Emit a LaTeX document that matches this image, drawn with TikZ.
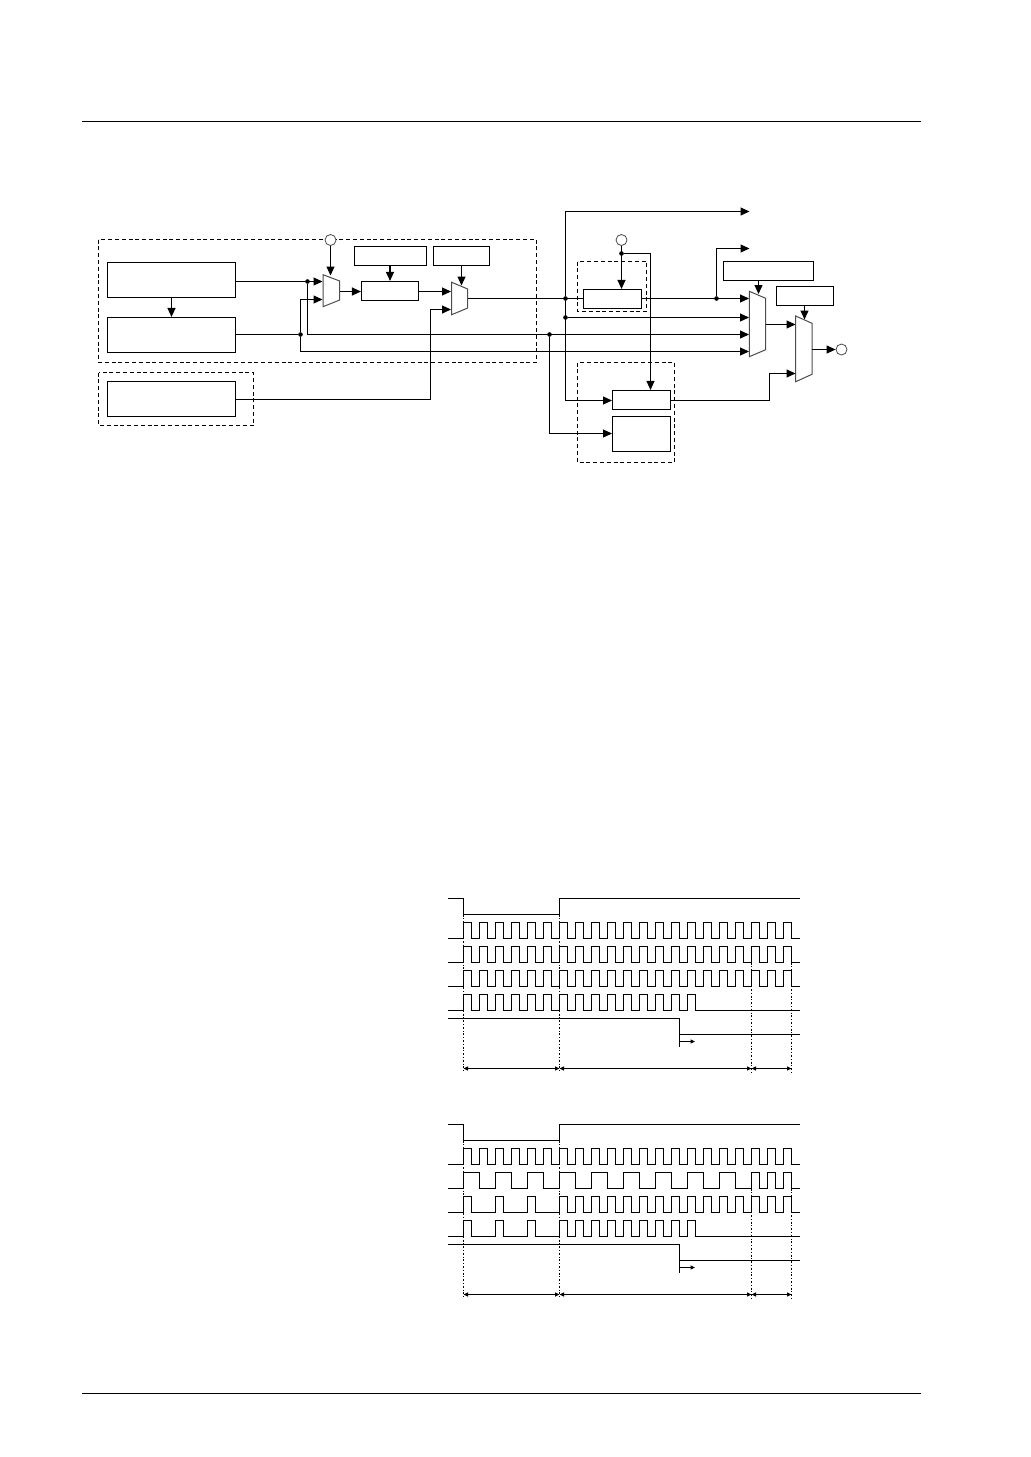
\documentclass[tikz,border=0pt]{standalone}
\usetikzlibrary{arrows.meta}
\tikzset{
  wire/.style={line width=1.1pt},
  blockbox/.style={draw,line width=1.1pt,inner sep=0pt,minimum height=19pt},
  widebox/.style={blockbox,minimum width=128pt,minimum height=35pt},
  dashbox/.style={line width=1pt,dash pattern=on 4pt off 2.8pt},
  muxbox/.style={draw=black!70,fill=white,line width=1pt},
  pin/.style={draw=black!70,fill=white,circle,line width=.8pt,inner sep=0pt,minimum size=11pt},
  junct/.style={fill,circle,inner sep=0pt,minimum size=4.6pt},
  wave/.style={line width=1.1pt},
  guide/.style={line width=.9pt,dash pattern=on 2pt off 1.8pt on 1pt off 1.8pt},
  span/.style={line width=1pt,{Triangle[length=4.5pt,width=4pt]}-{Triangle[length=4.5pt,width=4pt]}},
}
% low level, first rising edge, pulses, high time, period
\newcommand{\pulserow}[5]{\draw[wave] (#2,#1) \foreach \k in {1,...,#3}{ -- ++(0,-16) -- ++(#4,0) -- ++(0,16) -- ++(#5-#4,0)};}
\begin{document}
\begin{tikzpicture}[x=1pt,y=-1pt,>={Triangle[length=9pt,width=8pt]}]
\useasboundingbox (0,0) rectangle (1031,1457);
\draw[line width=1pt] (82,121.5)--(921,121.5);
\draw[line width=1pt] (82,1393.5)--(921,1393.5);

% dashed groups
\draw[dashbox] (98.5,239.5) rectangle (536.5,362.5);
\draw[dashbox] (98.5,372.5) rectangle (253.5,425.5);
\draw[dashbox] (577.5,261.5) rectangle (646.5,311.5);
\draw[dashbox] (577.5,362.5) rectangle (674.5,462.5);

% blocks
\node[widebox] (srca) at (171.5,280) {};
\node[widebox] (srcb) at (171.5,335) {};
\node[widebox] (srcc) at (171.5,399) {};
\node[blockbox,minimum width=57pt] (blkd) at (390,291) {};
\node[blockbox,minimum width=72pt] (blke) at (390.5,256) {};
\node[blockbox,minimum width=56pt] (blkf) at (461.5,256) {};
\node[blockbox,minimum width=58pt] (blkg) at (612.5,299) {};
\node[blockbox,minimum width=58pt] (blkh) at (641.5,400) {};
\node[blockbox,minimum width=58pt,minimum height=35pt] (blki) at (641.5,434) {};
\node[blockbox,minimum width=90pt] (blkj) at (768.5,271) {};
\node[blockbox,minimum width=57pt] (blkk) at (805,296) {};
\node[pin] (pina) at (330.5,240) {};
\node[pin] (pinb) at (621.5,240) {};
\node[pin] (pinc) at (841.5,349.5) {};

% muxes
\draw[muxbox] (323,274.7)--(339.7,281)--(339.7,300)--(323,306.7)--cycle;
\draw[muxbox] (451.7,282.3)--(467.7,289)--(467.7,308)--(451.7,314.7)--cycle;
\draw[muxbox] (749.3,291.3)--(765.7,298.3)--(765.7,349.7)--(749.3,356.7)--cycle;
\draw[muxbox] (795.7,316)--(812,323.3)--(812,374.3)--(795.7,381.7)--cycle;

% pins of the muxes and corners
\coordinate (muxa1) at (322.5,281.5);
\coordinate (muxa2) at (322.5,299.5);
\coordinate (muxas) at (330.5,275.5);
\coordinate (muxao) at (339.7,291.5);
\coordinate (muxb1) at (451,291.5);
\coordinate (muxb2) at (451,309.5);
\coordinate (muxbs) at (461.5,285.5);
\coordinate (muxbo) at (467.7,298.5);
\coordinate (muxc1) at (749,298.5);
\coordinate (muxc2) at (749,317.5);
\coordinate (muxc3) at (749,334.5);
\coordinate (muxc4) at (749,351.5);
\coordinate (muxcs) at (758.5,294);
\coordinate (muxco) at (765.7,324.5);
\coordinate (muxd1) at (795.5,324.5);
\coordinate (muxd2) at (795.5,373.5);
\coordinate (muxds) at (804.5,319.5);
\coordinate (muxdo) at (812,349.5);
\coordinate (outa) at (749.5,211.5);
\coordinate (outb) at (749.5,248.5);
\coordinate (bend) at (650.5,253.5);
\coordinate (srccout) at (235.5,399.5);
\coordinate (turnb) at (430.5,399.5);
\coordinate (hin) at (612,400.5);
\coordinate (iin) at (612,433.5);
\coordinate (hout) at (670.5,400.5);
\coordinate (turnd) at (769.5,400.5);

% junctions
\node[junct] (ja) at (307.5,281.5) {};
\node[junct] (jb) at (300.5,334.5) {};
\node[junct] (jc) at (565.5,298.5) {};
\node[junct] (jd) at (565.5,317.5) {};
\node[junct] (je) at (549.5,334.5) {};
\node[junct] (jf) at (621.5,253.5) {};
\node[junct] (jg) at (716.5,298.5) {};

% connectors, left part
\draw[wire,->] (srca.south)--(srcb.north);
\draw[wire,->] (srca.east |- muxa1)--(muxa1);
\draw[wire] (srcb.east |- jb)--(jb);
\draw[wire,->] (jb) |- (muxa2);
\draw[wire,->] (pina)--(muxas);
\draw[wire,->] (muxao)--(blkd.west |- muxao);
\draw[wire,->] (blke.south -| blkd.north)--(blkd.north);
\draw[wire,->] (blkd.east |- muxb1)--(muxb1);
\draw[wire,->] (blkf.south)--(muxbs);
\draw[wire,->] (srccout) -- (turnb) |- (muxb2);
\draw[wire] (muxbo)--(blkg.west |- muxbo);

% connectors, right part
\draw[wire,->] (ja) |- (muxc3);
\draw[wire,->] (jb) |- (muxc4);
\draw[wire,->] (jd)--(muxc2);
\draw[wire,->] (jc) |- (outa);
\draw[wire,->] (jc) |- (hin);
\draw[wire,->] (je) |- (iin);
\draw[wire,->] (pinb)--(blkg.north -| pinb);
\draw[wire,->] (jf) -- (bend) -- (bend |- blkh.north);
\draw[wire,->] (blkg.east |- muxc1)--(muxc1);
\draw[wire,->] (jg) |- (outb);
\draw[wire,->] (blkj.south -| muxcs)--(muxcs);
\draw[wire,->] (blkk.south -| muxds)--(muxds);
\draw[wire,->] (muxco)--(muxd1);
\draw[wire,->] (hout) -- (turnd) |- (muxd2);
\draw[wire,->] (muxdo)--(pinc);

% timing, the parts both charts share
\foreach \ty in {0,226}{
  \draw[guide] (463.5,914.5+\ty)--(463.5,1072.5+\ty);
  \draw[guide] (559.5,914.5+\ty)--(559.5,1072.5+\ty);
  \draw[guide] (751.5,962.5+\ty)--(751.5,1072.5+\ty);
  \draw[guide] (791.5,962.5+\ty)--(791.5,1072.5+\ty);
  \draw[wave] (447.5,898.5+\ty)--(463.5,898.5+\ty)--(463.5,914.5+\ty)--(559.5,914.5+\ty)--(559.5,898.5+\ty)--(800,898.5+\ty);
  \foreach \row in {938.5,962.5,986.5,1010.5}
    \draw[wave] (447.5,\row+\ty)--(463.5,\row+\ty);
  \draw[wave] (695.5,1010.5+\ty)--(800,1010.5+\ty);
  \draw[wave] (447.5,1018.5+\ty)--(679.5,1018.5+\ty)--(679.5,1046.5+\ty);
  \draw[wave] (679.5,1034.5+\ty)--(800,1034.5+\ty);
  \draw[wave,-{Triangle[length=4.5pt,width=4pt]}] (679.5,1041.5+\ty)--(695,1041.5+\ty);
  \draw[span] (463.5,1068.5+\ty)--(559.5,1068.5+\ty);
  \draw[span] (559.5,1068.5+\ty)--(751.5,1068.5+\ty);
  \draw[span] (751.5,1068.5+\ty)--(791.5,1068.5+\ty);
  \pulserow{938.5+\ty}{463.5}{21}{8}{16}
}
% first chart
\pulserow{962.5}{463.5}{21}{8}{16}
\pulserow{986.5}{463.5}{21}{8}{16}
\pulserow{1010.5}{463.5}{15}{8}{16}
% second chart
\pulserow{1188.5}{463.5}{9}{16}{32}
\pulserow{1188.5}{751.5}{3}{8}{16}
\pulserow{1212.5}{463.5}{3}{8}{32}
\pulserow{1212.5}{559.5}{15}{8}{16}
\pulserow{1236.5}{463.5}{3}{8}{32}
\pulserow{1236.5}{559.5}{9}{8}{16}
\end{tikzpicture}
\end{document}
